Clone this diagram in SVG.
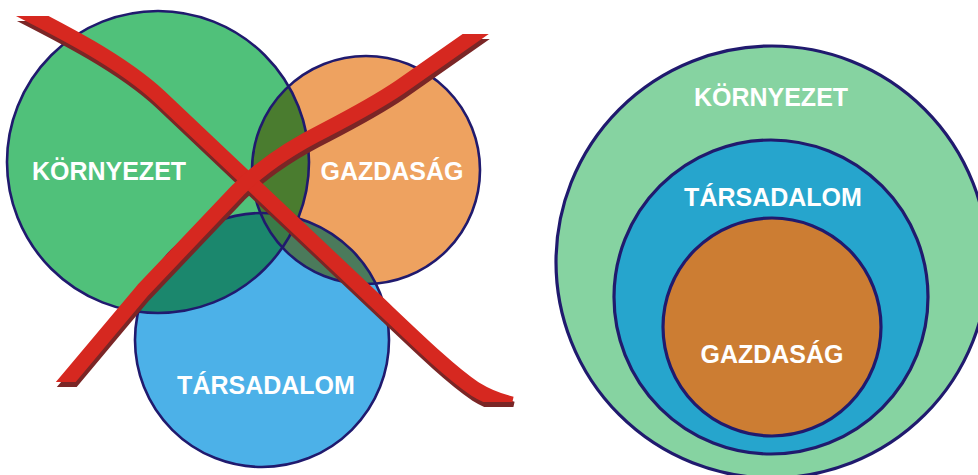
<svg xmlns="http://www.w3.org/2000/svg" width="978" height="475" viewBox="0 0 978 475">
<style>
.lbl{font-family:"Liberation Sans",Arial,sans-serif;font-weight:bold;font-size:25px;fill:#ffffff;text-anchor:middle}
.ol{fill:none;stroke:#201a6e;stroke-width:2.6}
.ol3{stroke:#201a6e;stroke-width:3.2}
.band{fill:none;stroke:#d62820;stroke-width:15;stroke-linecap:butt;stroke-linejoin:round}
.shadow{fill:none;stroke:#7a2626;stroke-width:15;stroke-linecap:butt;stroke-linejoin:round}
</style>
<defs>
<clipPath id="cG"><circle cx="158" cy="162" r="151"/></clipPath>
<clipPath id="cO"><circle cx="366" cy="170" r="114"/></clipPath>
<clipPath id="clip1"><rect x="0" y="16" width="600" height="386"/></clipPath>
<clipPath id="clip2"><rect x="0" y="34" width="600" height="348"/></clipPath>
<path id="arm1" d="M 5 2 C 60 30, 120 60, 160 97 L 380 305 C 420 343, 450 372, 475 389 C 488 397, 498 401, 512 404"/>
<path id="arm2" d="M 52 398 L 70 377 L 143 290 L 238 190 C 265 163, 295 145, 325 130 C 350 117, 375 104, 400 87 L 500 17"/>
</defs>

<!-- Left: overlapping circles -->
<g id="left-venn">
  <g id="node-kornyezet-left"><circle cx="158" cy="162" r="151" fill="#50c17a"/></g>
  <g id="node-gazdasag-left"><circle cx="366" cy="170" r="114" fill="#eea260"/></g>
  <g id="node-tarsadalom-left"><circle cx="262" cy="340" r="127" fill="#4cb1e8"/></g>
  <g id="overlaps">
    <g clip-path="url(#cG)"><circle cx="366" cy="170" r="114" fill="#4a7c2f"/></g>
    <g clip-path="url(#cG)"><circle cx="262" cy="340" r="127" fill="#1b876d"/></g>
    <g clip-path="url(#cO)"><circle cx="262" cy="340" r="127" fill="#4b7a5b"/></g>
    <g clip-path="url(#cG)"><g clip-path="url(#cO)"><circle cx="262" cy="340" r="127" fill="#3a7b48"/></g></g>
  </g>
  <g id="outlines">
    <circle class="ol" cx="158" cy="162" r="151"/>
    <circle class="ol" cx="366" cy="170" r="114"/>
    <circle class="ol" cx="262" cy="340" r="127"/>
  </g>
  <text class="lbl" x="109" y="180">KÖRNYEZET</text>
  <text class="lbl" x="392" y="180">GAZDASÁG</text>
  <text class="lbl" x="266" y="394">TÁRSADALOM</text>
</g>

<!-- Red cross -->
<g id="cross">
  <g transform="translate(1,5)">
    <use href="#arm1" class="shadow" clip-path="url(#clip1)"/>
    <use href="#arm2" class="shadow" clip-path="url(#clip2)"/>
  </g>
  <use href="#arm1" class="band" clip-path="url(#clip1)"/>
  <use href="#arm2" class="band" clip-path="url(#clip2)"/>
</g>

<!-- Right: nested circles -->
<g id="right-nested">
  <g id="node-kornyezet-right">
    <circle class="ol3" cx="772" cy="262" r="216" fill="#86d3a1"/>
    <text class="lbl" x="771" y="106">KÖRNYEZET</text>
  </g>
  <g id="node-tarsadalom-right">
    <circle class="ol3" cx="771" cy="297" r="157" fill="#26a5cd"/>
    <text class="lbl" x="773" y="206">TÁRSADALOM</text>
  </g>
  <g id="node-gazdasag-right">
    <circle class="ol3" cx="772" cy="327" r="109" fill="#cc7d33"/>
    <text class="lbl" x="772" y="363">GAZDASÁG</text>
  </g>
</g>
</svg>
